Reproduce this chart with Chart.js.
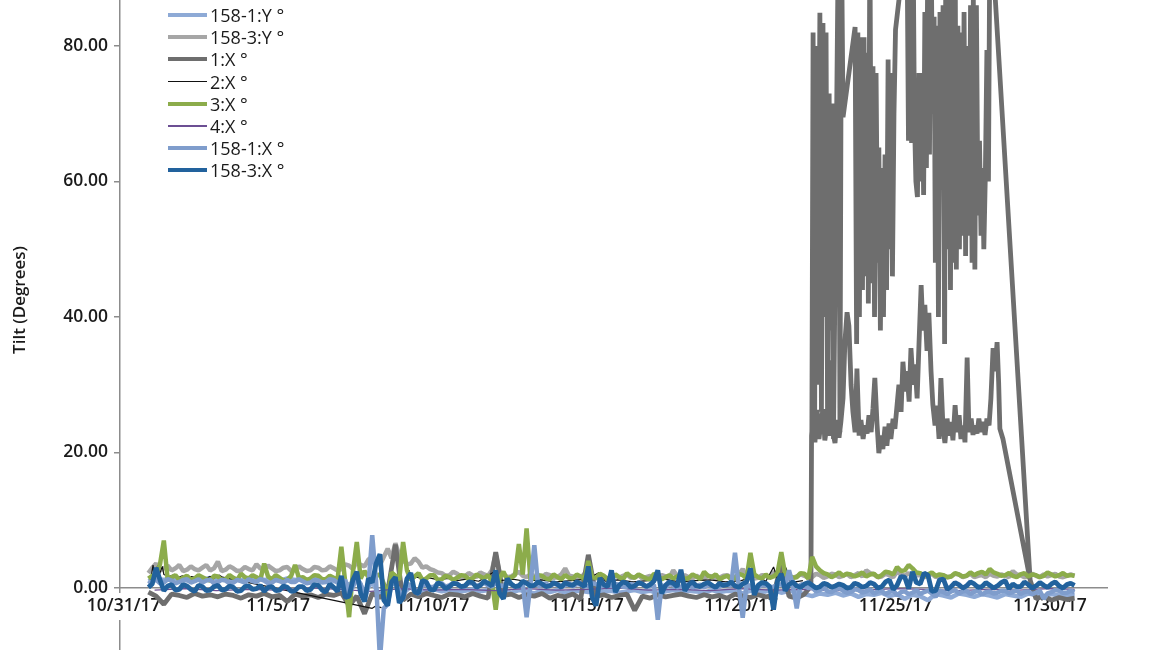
<!DOCTYPE html>
<html>
<head>
<meta charset="utf-8">
<script src="https://cdn.jsdelivr.net/npm/chart.js@4.4.1/dist/chart.umd.min.js"></script>
<style>
  html, body { margin: 0; padding: 0; background: #ffffff; overflow: hidden; }
  #wrap { position: absolute; left: 0; top: -50px; width: 1155px; height: 700px; }
  #legend { position: absolute; left: 168px; top: 4px; font-family: "Open Sans", "Noto Sans", sans-serif; font-size: 18px; font-weight: 500; color: #1a1a1a; }
  .row { display: flex; align-items: center; height: 22.2px; white-space: nowrap; }
  .swatch { width: 39px; margin-right: 3px; }
</style>
</head>
<body>
<div id="wrap"><canvas id="c" width="1155" height="700"></canvas></div>
<div id="legend"></div>
<script>
// ---- categories / ticks ----
const xTickDays = [0, 5, 10, 15, 20, 25, 30];
const xTickLabels = ['10/31/17', '11/5/17', '11/10/17', '11/15/17', '11/20/17', '11/25/17', '11/30/17'];
const yTickValues = [0, 20, 40, 60, 80];
const seriesNames = ['158-1:Y °', '158-3:Y °', '1:X °', '2:X °', '3:X °', '4:X °', '158-1:X °', '158-3:X °'];

// sample times, days after 10/31/17 00:00 (half-step readings sit 0.125 day later)
const T = [
  0.80,1.05,1.30,1.55,1.80,2.05,2.30,2.55,2.80,3.05,
  3.30,3.55,3.80,4.05,4.30,4.55,4.80,5.05,5.30,5.55,
  5.80,6.05,6.30,6.55,6.80,7.05,7.30,7.55,7.80,8.05,
  8.30,8.55,8.80,9.05,9.30,9.55,9.80,10.05,10.30,10.55,
  10.80,11.05,11.30,11.55,11.80,12.05,12.30,12.55,12.80,13.05,
  13.30,13.55,13.80,14.05,14.30,14.55,14.80,15.05,15.30,15.55,
  15.80,16.05,16.30,16.55,16.80,17.05,17.30,17.55,17.80,18.05,
  18.30,18.55,18.80,19.05,19.30,19.55,19.80,20.05,20.30,20.55,
  20.80,21.05,21.30,21.55,21.80,22.05,22.30,22.55,22.80,23.05,
  23.30,23.55,23.80,24.05,24.30,24.55,24.80,25.05,25.30,25.55,
  25.80,26.05,26.30,26.55,26.80,27.05,27.30,27.55,27.80,28.05,
  28.30,28.55,28.80,29.05,29.30,29.55,29.80,30.05,30.30,30.55,
  30.80
];
const HALF_STEP = 0.125;

// ---- series values ----
const y158_1 = [
  1.0,1.4,1.2,1.5,1.3,1.1,1.4,1.2,1.5,1.3,
  1.2,1.4,1.1,1.3,1.5,1.2,1.3,1.1,1.4,1.2,
  1.3,1.1,1.4,1.2,1.0,1.3,0.4,1.6,-0.6,0.9,
  -1.2,0.3,1.0,-0.8,0.2,-1.1,-0.4,-0.2,-0.5,-0.3,
  -0.6,-0.4,-0.2,-0.5,-0.3,-0.6,-0.4,-0.7,-0.3,-0.5,
  -0.8,-0.4,-0.6,-0.3,-0.7,-0.5,-0.4,-0.6,-0.3,-0.5,
  -0.4,-0.7,-0.5,-0.3,-0.6,-0.4,-0.8,-0.5,-0.3,-0.6,
  -0.4,-0.5,-0.7,-0.3,-0.6,-0.4,-0.5,-0.8,-0.4,-0.6,
  -0.5,-0.3,-0.7,-0.4,-0.6,-0.9,-1.2,-0.8,-1.0,-0.7,
  -1.1,-0.8,-1.3,-0.9,-1.0,-0.7,-1.2,-0.9,-1.6,-1.0,
  -1.2,-1.8,-0.9,-1.1,-1.4,-0.8,-1.0,-1.3,-0.9,-1.1,
  -1.4,-0.9,-1.1,-1.3,-0.8,-1.0,-1.2,-0.9,-1.1,-1.0,
  -1.1
];
const y158_3 = [
  2.2,3.6,2.9,2.6,3.4,2.7,2.8,3.0,2.6,3.9,
  2.7,2.9,2.6,2.8,3.5,2.7,2.9,2.6,3.1,2.7,
  2.8,2.6,3.0,2.7,2.9,2.8,3.3,3.9,3.2,4.6,
  3.4,5.8,6.6,4.1,3.6,3.9,3.2,2.6,2.2,1.9,
  2.1,1.7,1.9,2.3,1.8,5.0,2.0,1.7,2.4,1.6,
  1.8,1.5,1.9,1.6,2.9,1.7,1.5,1.8,1.4,1.6,
  1.7,1.5,2.0,1.6,1.4,1.8,1.5,1.7,2.6,1.5,
  1.6,1.8,1.4,1.7,1.5,1.9,1.6,2.8,1.7,1.5,
  1.8,2.4,1.6,1.9,1.7,1.8,1.6,1.9,1.7,2.0,
  1.8,1.6,2.2,2.6,2.0,1.7,1.9,2.4,1.8,1.7,
  1.9,1.8,1.6,1.9,1.7,2.0,1.8,1.6,1.9,2.1,
  1.7,1.8,2.5,1.9,1.7,1.8,2.0,1.9,1.7,1.8,
  1.8
];
const y158_3Half = [
  3.0,2.6,3.3,2.9,2.5,3.2,2.6,3.4,2.9,2.5,
  3.2,2.5,3.1,2.6,2.9,3.3,2.5,3.0,2.5,3.2,
  2.5,3.1,2.6,3.2,2.6,3.5,2.8,3.4,4.2,3.8,
  4.6,4.4,4.8,3.5,4.4,3.0,2.8,2.3,1.8,2.4,
  1.6,2.2,1.6,2.0,2.6,2.2,1.6,2.1,1.8,2.0,
  1.4,2.1,1.5,2.0,1.8,1.4,2.1,1.5,1.9,1.4,
  1.9,1.8,1.5,1.9,1.6,1.4,1.9,1.5,1.8,1.9,
  1.4,1.5,1.8,1.4,1.8,1.5,2.0,1.6,1.4,1.9,
  1.5,1.7,2.0,1.5,2.0,1.5,2.1,1.5,2.1,1.6,
  2.1,1.9,1.7,2.2,1.6,2.1,1.6,2.0,2.2,1.9,
  1.6,2.1,1.8,1.6,2.1,1.6,2.1,1.8,1.6,1.8,
  2.0,1.6,2.0,1.6,2.1,1.6,1.7,2.1,1.6,2.0
];
// 1:X before the jump (times T[0..85])
const x1Early = [
  -0.6,-1.2,-2.4,-0.9,-1.1,-1.4,-0.8,-1.2,-1.0,-1.3,
  -0.9,-1.1,-1.5,-1.0,-1.2,-0.8,-1.3,-1.1,-2.0,-0.9,
  -1.2,-1.0,-1.4,-0.9,-1.1,-0.7,-2.6,-1.2,-3.8,-0.8,
  -1.4,-0.6,6.4,-1.8,-0.9,-1.3,-0.8,-1.1,-1.4,-0.9,
  -1.0,-1.3,-0.8,-1.2,-1.5,5.3,-1.1,-0.9,-1.4,-1.0,
  -1.2,-0.8,-1.5,-1.1,-1.3,-0.9,-1.6,4.9,-1.2,-1.0,
  -1.4,-1.1,-0.9,-3.3,-1.2,-1.5,-1.0,-1.3,-1.1,-0.9,
  -1.2,-1.4,-1.0,-1.3,-1.1,-1.5,-0.9,-1.2,-1.4,-1.0,
  -1.3,-1.1,3.6,-1.2,-1.5,-0.9
];
// 1:X lower band after the jump [day, value]
const x1Band = [
  [22.26,0.3],[22.28,22.5],[22.33,25.5],[22.39,21.5],[22.46,26.3],[22.52,22.0],[22.59,24.5],[22.65,26.4],
  [22.71,21.8],[22.78,24.0],[22.84,22.5],[22.91,33.6],[22.97,23.0],[23.04,21.4],[23.10,24.8],[23.17,22.2],
  [23.23,24.5],[23.30,28.0],[23.36,36.3],[23.43,40.7],[23.49,38.7],[23.56,30.0],[23.62,26.0],[23.69,23.0],
  [23.75,32.4],[23.82,22.5],[23.88,24.8],[23.95,22.0],[24.01,24.0],[24.08,22.8],[24.14,25.5],[24.21,23.0],
  [24.27,26.5],[24.33,31.0],[24.40,24.3],[24.46,19.9],[24.53,22.5],[24.59,20.5],[24.66,23.8],[24.72,21.0],
  [24.79,24.3],[24.85,22.0],[24.92,25.0],[24.98,23.5],[25.05,27.0],[25.11,30.0],[25.18,26.0],[25.24,33.4],
  [25.31,29.0],[25.37,32.0],[25.44,27.5],[25.50,35.4],[25.57,30.0],[25.63,33.0],[25.70,28.0],[25.76,36.0],
  [25.83,44.7],[25.89,38.0],[25.95,41.8],[26.02,35.0],[26.08,40.6],[26.15,32.0],[26.21,27.0],[26.28,24.0],
  [26.34,26.9],[26.41,22.0],[26.47,31.0],[26.54,23.5],[26.60,21.4],[26.67,25.0],[26.73,22.5],[26.80,24.5],
  [26.86,21.8],[26.93,27.0],[26.99,23.0],[27.06,25.5],[27.12,22.0],[27.19,24.0],[27.25,21.5],[27.32,34.0],
  [27.38,23.0],[27.45,25.0],[27.51,22.6],[27.57,24.0],[27.64,22.8],[27.70,25.0],[27.77,23.0],[27.83,24.5],
  [27.90,22.6],[27.96,25.0],[28.03,24.0],[28.09,28.0],[28.16,35.4],[28.22,32.0],[28.29,36.3],[28.34,30.4],
  [28.38,23.5],[28.48,22.0],[29.36,1.2]
];
// 1:X after the drop (times T[115..120])
const x1Tail = [-1.6,-1.2,-1.8,-1.4,-1.7,-1.5];
// 1:X high excursions [day, value]
const x1High = [
  [22.29,23],[22.33,82],[22.38,24],[22.42,80],[22.47,30],
  [22.55,84.9],[22.60,26],[22.65,83.4],[22.70,40],[22.75,82],[22.80,24],
  [22.85,73],[22.89,38],[22.94,71.5],[22.99,22],
  [23.15,97],[23.20,23],[23.25,96],[23.30,69.5],
  [23.69,82.8],[23.74,36],[23.78,82],[23.83,40],[23.88,81.3],[23.93,44],
  [23.98,81.3],[24.03,46],[24.08,79],[24.12,42],[24.17,97],[24.22,45],
  [24.27,77],[24.32,40],[24.37,76],[24.42,48],
  [24.46,65],[24.51,38],[24.56,62],[24.61,40],[24.66,64],[24.71,44],
  [24.76,78],[24.80,50],[24.85,76],[24.90,46],[24.95,70],[25.00,82.4],
  [25.37,97],[25.42,66],[25.47,97],[25.52,65.7],[25.57,96],[25.61,70],[25.66,60],[25.71,57.7],
  [25.76,76],[25.81,60],[25.86,76],[25.91,58],[25.95,85],[26.00,62],[26.05,97],[26.10,64],[26.15,97],[26.20,70],
  [26.25,84.3],[26.29,48],[26.34,83],[26.39,40],[26.44,85],[26.49,62],[26.54,86],[26.59,36],
  [26.63,96],[26.68,50],[26.73,92],[26.78,44],[26.83,90],[26.88,48],[26.93,97],[26.97,47],
  [27.02,83],[27.07,50],[27.12,82],[27.17,52],[27.22,85],[27.27,49],[27.31,80],
  [27.38,52],[27.43,86],[27.48,48],[27.52,87.5],[27.57,47],[27.62,86],
  [27.67,55],[27.72,66],[27.77,52],[27.82,62],[27.86,50],[27.91,61],[27.96,79.4],[28.01,60],[28.06,100],
  [29.36,1.2]
];
// 2:X [day, value]; null marks a gap in the record
const x2Points = [
  [0.85,0.5],[0.95,3.4],[1.00,1.8],[1.10,3.3],[1.15,1.9],[1.25,3.2],[1.30,2.0],[1.45,1.7],[1.60,1.9],[1.75,1.5],
  [1.90,1.8],[2.05,1.4],[2.20,1.7],[2.35,1.5],[2.50,1.8],[2.65,1.4],[2.80,1.7],[2.95,1.5],[3.10,1.9],[3.20,1.6],
  [8.05,-3.0],[8.15,-2.7],[8.35,-2.9],[8.80,null],
  [9.20,1.5],[9.25,2.6],[9.30,1.4],[9.50,1.6],[9.70,1.3],[9.90,1.5],[10.20,1.2],[10.50,1.4],[10.80,1.1],[11.10,1.3],
  [11.50,1.0],[12.00,2.4],[12.20,1.1],[12.60,1.3],[13.00,1.0],[13.50,1.2],[14.00,0.9],[14.50,1.1],[15.00,1.3],[15.40,2.3],
  [15.60,1.0],[16.00,1.2],[16.50,0.9],[17.00,1.1],[17.50,1.3],[18.00,0.9],[18.50,1.1],[19.00,1.2],[19.50,0.9],[20.00,1.1],
  [20.50,1.8],[20.80,1.0],[21.05,3.1],[21.20,1.0],[21.45,3.0],[21.60,0.8],[22.00,1.1]
];
const x3 = [
  1.4,1.9,7.0,1.6,1.2,1.8,1.4,1.6,1.1,1.7,
  1.3,1.5,2.1,1.4,1.6,3.6,1.3,1.5,1.2,3.4,
  1.6,1.4,1.8,1.3,1.5,6.1,-4.3,6.8,2.5,1.0,
  2.0,-1.5,1.8,6.8,1.2,2.2,1.4,1.9,1.3,1.6,
  1.5,1.8,1.4,1.7,1.9,-3.2,2.4,1.6,6.5,8.8,
  1.5,1.8,1.3,1.6,1.9,1.4,1.7,4.0,1.5,1.8,
  1.4,1.6,2.2,1.5,1.7,1.3,1.8,1.6,1.4,1.9,
  1.5,1.7,2.4,1.6,1.3,1.8,1.5,1.9,5.2,1.6,
  2.0,1.7,5.3,1.8,1.6,2.1,4.6,2.6,2.0,1.9,
  1.8,2.0,1.9,1.7,2.1,1.9,2.3,3.1,2.6,2.9,
  2.2,2.0,1.8,1.9,1.7,2.0,1.8,1.9,2.4,2.8,
  2.1,1.9,1.8,2.0,1.7,1.9,1.8,2.0,1.9,1.8,
  1.8
];
const x3Half = [
  1.8,3.5,1.2,1.9,1.5,1.2,1.9,1.3,1.8,1.2,
  1.9,1.2,1.6,1.9,1.2,1.7,1.9,1.1,1.8,1.5,
  1.2,1.9,1.3,1.8,1.2,0.9,2.4,1.4,1.6,1.8,
  0.6,2.3,1.2,2.6,1.7,1.2,1.9,1.2,1.8,1.2,
  1.9,1.3,2.0,1.4,1.0,1.5,1.2,1.9,2.0,1.2,
  1.9,1.4,2.0,1.3,1.5,2.0,1.3,1.6,2.1,1.3,
  2.0,1.3,1.7,2.0,1.4,2.1,1.3,1.9,1.7,1.3,
  2.0,1.3,1.8,2.0,1.6,1.3,2.1,1.4,2.0,1.4,
  1.5,2.2,2.0,1.5,2.2,1.4,3.2,2.2,1.6,2.3,
  2.1,1.7,2.3,2.0,1.6,2.4,2.0,2.5,3.4,2.3,
  1.8,2.3,2.0,1.6,2.2,1.7,2.3,2.2,2.0,2.3,
  1.8,2.2,1.6,2.2,2.0,1.6,2.3,1.7,2.2,1.9
];
const x4Days = [1,2,3,4,5,6,7,8,9,10,11,12,13,14,15,16,17,18,19,20,21,22,23,24,25,26,27,28,29,30,30.8];
const x4 = [-0.3,-0.1,-0.4,-0.2,-0.3,0.0,-0.2,-0.5,-0.1,-0.3,-0.2,-0.4,-0.1,-0.3,-0.2,0.0,-0.3,-0.2,-0.4,-0.1,-0.3,-0.2,-0.4,-0.3,-0.1,-0.2,-0.4,-0.2,-0.3,-0.1,-0.2];
const x158_1 = [
  0.6,1.2,0.8,1.1,0.9,1.3,1.0,0.8,1.2,0.9,
  1.1,0.8,1.0,1.3,0.9,1.1,0.8,1.0,1.2,0.9,
  1.0,0.8,1.1,0.9,1.2,0.7,-0.8,1.4,-1.9,7.8,
  -10.5,-2.4,0.6,-1.6,0.4,-0.9,0.5,0.2,0.7,0.4,
  0.6,0.3,0.7,0.5,0.4,0.8,0.3,0.6,0.4,-4.3,
  6.3,0.5,0.3,0.6,0.4,0.2,0.5,0.3,0.6,0.4,
  0.3,0.5,0.2,0.4,0.6,0.3,-4.7,0.1,0.4,0.2,
  0.5,0.3,0.1,0.4,0.2,0.5,5.2,-4.4,0.3,0.1,
  0.4,0.2,0.5,2.6,-3.0,0.3,0.1,-0.3,-0.5,-0.2,
  -0.4,-0.6,-0.3,-0.5,-0.8,-0.4,-0.6,-1.1,-0.5,-0.7,
  -0.9,-0.4,-1.3,-0.6,-0.5,-0.8,-0.4,-0.6,-1.0,-0.5,
  -0.7,-0.4,-0.6,-0.9,-0.5,-0.7,-1.6,-0.6,-0.4,-0.7,
  -0.6
];
const x158_1Half = [
  1.0,0.7,1.3,0.7,1.2,0.8,1.3,1.1,0.7,1.2,
  0.7,1.2,0.8,1.0,1.3,0.7,1.2,0.8,0.9,1.3,
  0.7,1.2,0.8,1.3,0.8,1.2,0.2,0.6,0.3,1.0,
  -3.0,0.8,-0.4,0.6,-0.3,0.4,0.1,0.6,0.2,0.7,
  0.2,0.7,0.3,0.8,0.2,0.4,0.7,0.2,0.6,0.5,
  0.2,0.7,0.6,0.2,0.7,0.6,0.2,0.7,0.2,0.6,
  0.6,0.2,0.6,0.7,0.2,0.5,0.4,0.6,0.1,0.5,
  0.1,0.5,0.4,0.1,0.5,0.3,0.2,0.5,0.0,0.4,
  0.1,0.5,0.2,0.4,0.6,0.0,-0.5,0.1,-0.6,0.0,
  -0.7,-0.2,-0.7,-0.2,-0.5,-0.9,-0.3,-0.6,-0.9,-0.3,
  -0.6,-0.8,-0.4,-0.9,-0.3,-0.5,-0.9,-0.3,-0.6,-0.8,
  -0.4,-0.8,-0.3,-0.6,-0.9,-0.4,-0.8,-0.3,-0.7,-0.4
];
const x158_3 = [
  0.1,3.0,-0.4,0.5,-0.2,0.3,-0.5,0.2,-0.3,0.4,
  -0.2,0.1,-0.4,0.3,-0.1,-0.5,0.2,-0.3,0.1,-0.4,
  0.2,-0.2,0.4,-0.6,0.1,1.8,-1.2,2.4,-2.0,0.8,
  5.0,-2.6,1.6,-1.4,2.2,-0.8,0.9,-0.3,0.5,0.2,
  0.6,0.3,0.8,0.4,0.7,2.6,-1.6,0.6,0.3,0.7,
  0.4,0.6,0.3,0.5,0.8,0.4,0.6,3.2,-2.6,0.5,
  2.6,0.4,0.7,0.3,0.6,0.5,2.6,0.4,0.7,2.7,
  0.5,0.3,0.6,0.4,0.7,0.5,0.3,0.6,2.9,0.4,
  0.7,-3.2,2.1,0.5,0.3,0.6,0.4,0.2,0.5,0.3,
  0.4,0.1,0.5,0.3,0.6,0.2,1.2,0.4,1.6,2.4,
  0.6,1.9,-0.4,1.3,0.2,0.5,0.3,0.6,0.2,0.4,
  0.3,1.1,0.6,0.2,0.5,0.3,0.4,0.6,0.3,0.5,
  0.4
];
const x158_3Half = [
  0.6,1.2,0.3,-0.3,0.5,-0.2,0.4,-0.4,0.2,-0.3,
  0.3,-0.5,0.2,-0.2,0.4,0.1,-0.4,0.3,-0.5,0.2,
  -0.4,0.5,-0.3,0.6,-0.5,-1.4,1.2,-0.8,1.4,3.6,
  -1.8,0.9,-2.2,1.4,-0.6,1.1,-0.2,0.8,-0.1,0.7,
  0.2,0.9,0.1,1.0,0.3,-0.8,1.4,0.2,1.0,0.3,
  0.9,0.2,0.8,0.1,0.5,0.9,0.2,-1.4,1.5,0.2,
  -0.6,0.9,0.1,0.8,0.2,1.0,-0.8,0.9,0.2,-0.4,
  0.9,0.2,0.8,0.1,0.4,0.9,0.1,0.9,-1.0,0.8,
  0.2,1.0,-0.4,0.9,0.1,0.8,0.0,0.7,0.1,0.6,
  0.0,0.7,0.1,0.8,0.0,0.9,-0.2,1.7,-0.1,0.8,
  2.2,-0.5,1.2,-0.2,0.8,0.0,0.9,0.1,0.8,0.0,
  0.8,-0.1,0.2,0.9,0.0,0.8,0.1,0.9,0.0,0.7
];

const seriesColors = ['#8eaad6', '#a6a6a6', '#6e6e6e', '#111111', '#8cac4b', '#6c4f93', '#7f9dcc', '#22629d'];
const seriesWidths = [4.5, 4.5, 4.8, 1.2, 4.5, 1.2, 4.5, 4.8];

// ---- build library data ----
const onGrid = (vals, start) => vals.map((v, i) => ({ x: T[start + i], y: v }));
const onDenseGrid = (vals, half) => vals.flatMap((v, i) =>
  i < half.length ? [{ x: T[i], y: v }, { x: T[i] + HALF_STEP, y: half[i] }] : [{ x: T[i], y: v }]);
const fromPairs = pairs => pairs.map(p => ({ x: p[0], y: p[1] }));
const x1Data = [].concat(
  onGrid(x1Early, 0),
  fromPairs(x1Band),
  onGrid(x1Tail, 115),
  [{ x: 28.0, y: null }],
  fromPairs(x1High)
);
const seriesData = [
  onGrid(y158_1, 0),
  onDenseGrid(y158_3, y158_3Half),
  x1Data,
  fromPairs(x2Points),
  onDenseGrid(x3, x3Half),
  x4Days.map((d, i) => ({ x: d, y: x4[i] })),
  onDenseGrid(x158_1, x158_1Half),
  onDenseGrid(x158_3, x158_3Half)
];

const datasets = seriesNames.map((name, i) => ({
  label: name,
  data: seriesData[i],
  borderColor: seriesColors[i],
  backgroundColor: seriesColors[i],
  borderWidth: seriesWidths[i],
  pointRadius: 0,
  tension: 0,
  fill: false,
  spanGaps: false,
  borderJoinStyle: 'bevel',
  order: seriesNames.length - 1 - i
}));

// legend (HTML text)
const legendEl = document.getElementById('legend');
seriesNames.forEach((name, i) => {
  const row = document.createElement('div');
  row.className = 'row';
  const sw = document.createElement('span');
  sw.className = 'swatch';
  sw.style.height = (seriesWidths[i] > 2 ? 4 : 1.5) + 'px';
  sw.style.background = seriesColors[i];
  const tx = document.createElement('span');
  tx.textContent = name;
  row.appendChild(sw); row.appendChild(tx);
  legendEl.appendChild(row);
});

const textColor = '#1a1a1a';
const axisColor = '#8c8c8c';
Chart.defaults.font.family = '"Open Sans", "Noto Sans", sans-serif';

new Chart(document.getElementById('c'), {
  type: 'line',
  data: { datasets },
  options: {
    responsive: false,
    animation: false,
    events: [],
    layout: { padding: { left: 0, right: 48, top: 0, bottom: 0 } },
    plugins: { legend: { display: false }, tooltip: { enabled: false } },
    scales: {
      x: {
        type: 'linear',
        min: -0.12,
        max: 31.85,
        position: { y: 0 },
        afterBuildTicks: s => { s.ticks = xTickDays.map(v => ({ value: v })); },
        afterFit: s => { s.paddingLeft = 0; s.paddingRight = 0; },
        grid: { display: false, drawTicks: false },
        border: { display: true, color: axisColor, width: 1.5 },
        ticks: {
          autoSkip: false, maxRotation: 0, padding: 8, color: textColor,
          font: { size: 17.5, weight: '600' },
          callback: v => xTickLabels[xTickDays.indexOf(v)],
          showLabelBackdrop: true, backdropColor: '#ffffff',
          backdropPadding: { top: 3, bottom: 3, left: 0, right: 0 }
        }
      },
      y: {
        type: 'linear',
        min: -9.15,
        max: 94.17,
        position: 'left',
        afterBuildTicks: s => { s.ticks = yTickValues.map(v => ({ value: v })); },
        afterFit: s => { s.width = 120; s.paddingTop = 0; s.paddingBottom = 0; },
        grid: { drawOnChartArea: false, drawTicks: true, tickLength: 6, color: axisColor, lineWidth: 1.5 },
        border: { display: true, color: axisColor, width: 1.5, z: -1 },
        ticks: { padding: 6, color: textColor, font: { size: 17.5, weight: '600' }, callback: v => v.toFixed(2) },
        title: { display: true, text: 'Tilt (Degrees)', color: textColor, font: { size: 17, weight: '600' }, padding: { top: 10, bottom: 0 } }
      }
    }
  }
});
</script>
</body>
</html>
